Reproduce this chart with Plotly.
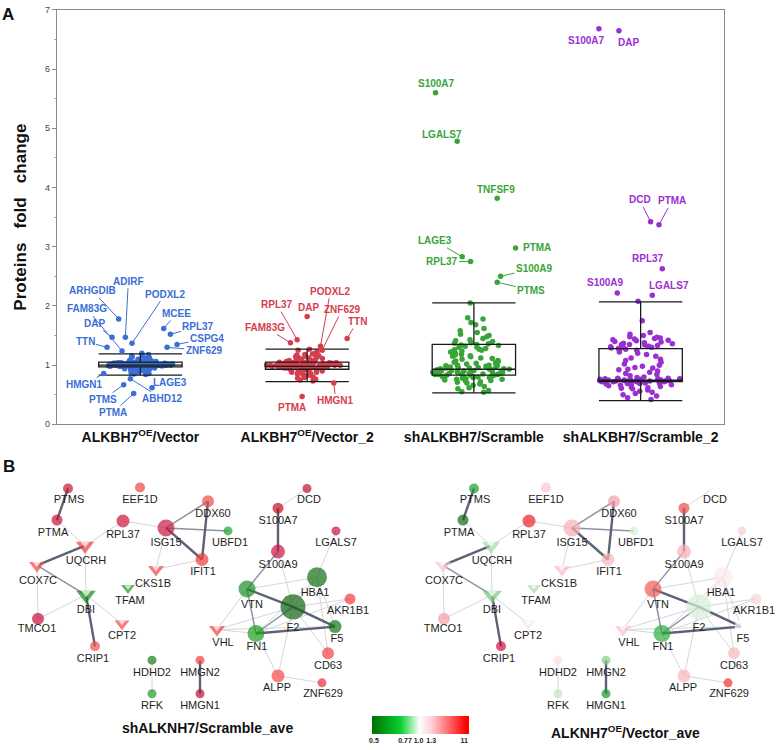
import plotly.graph_objects as go

# ---------------- Panel A data ----------------
categories = ["ALKBH7<sup>OE</sup>/Vector", "ALKBH7<sup>OE</sup>/Vector_2",
              "shALKBH7/Scramble", "shALKBH7/Scramble_2"]
y_ticks = [0, 1, 2, 3, 4, 5, 6, 7]

vector_vals = [1.00, 1.02, 0.98, 1.01, 0.99, 1.03, 0.97, 1.05, 0.95, 1.00, 1.04, 0.96, 1.02, 0.99, 1.01,
               1.06, 0.94, 1.03, 0.98, 1.00, 1.07, 0.93, 1.02, 1.01, 0.99, 0.97, 1.08, 0.92, 1.04, 1.00,
               1.03, 0.98, 1.01, 0.96, 1.05, 1.10, 0.90, 1.02, 0.99, 1.00, 1.12, 0.88, 1.04, 0.97, 1.01,
               1.03, 0.95, 1.00, 1.06, 0.98, 1.15, 0.87, 1.02, 1.00, 0.99, 1.09, 0.91, 1.01, 1.03, 0.97,
               1.18, 0.85, 1.00, 1.04, 0.96, 1.02, 0.99, 1.11, 0.89, 1.01, 1.05, 0.95, 1.00, 1.02, 0.98,
               1.13, 0.93, 1.03, 0.99, 1.01, 1.07, 0.94, 1.00, 1.20, 0.84, 1.02, 0.98, 1.04, 0.96, 1.00,
               1.08, 0.92, 1.01, 0.99, 1.03, 0.97, 1.14, 0.86, 1.02, 1.00, 1.06, 0.95, 1.01, 0.98, 1.16,
               0.90, 1.03, 1.00, 0.99, 1.05]
vector2_vals = [1.00, 0.98, 1.03, 0.95, 1.05, 0.92, 1.08, 0.88, 1.12, 0.85, 1.15, 0.82, 1.20, 0.78, 1.25,
                0.75, 1.02, 0.97, 1.01, 0.99, 1.04, 0.96, 1.06, 0.94, 1.10, 0.90, 1.00, 1.02, 0.98, 1.03,
                0.97, 1.07, 0.93, 1.13, 0.87, 1.18, 0.80, 1.01, 0.99, 1.05, 0.95, 1.00, 1.09, 0.91, 1.02,
                0.98, 1.04, 0.96, 1.11, 0.89, 1.16, 0.84, 1.22, 0.76, 1.00, 1.03, 0.97, 1.01, 0.99, 1.06,
                0.94, 1.08, 0.92, 1.14, 0.86, 1.02, 0.98, 1.00, 1.04, 0.96, 1.27, 0.73, 1.05, 0.95, 1.01,
                0.99, 1.03, 0.97, 1.12, 0.88, 1.07, 0.93, 1.00, 1.02, 0.98, 1.17, 0.83, 1.10, 0.90, 1.04,
                0.96, 1.00, 1.01, 0.99, 1.05, 0.95, 1.19, 0.79, 1.03, 0.97, 1.02, 0.98, 1.06, 0.94, 1.00,
                1.09, 0.91]
scramble_vals = [2.05, 1.80, 1.78, 1.72, 1.68, 1.62, 1.58, 1.55, 1.52, 1.50, 1.48, 1.45, 1.43, 1.40, 1.38,
                 1.37, 1.36, 1.35, 1.34, 1.32, 1.30, 1.30, 1.28, 1.27, 1.25, 1.24, 1.22, 1.20, 1.18, 1.17,
                 1.15, 1.14, 1.12, 1.10, 1.08, 1.07, 1.05, 1.04, 1.03, 1.02, 1.00, 1.00, 0.99, 0.98, 0.97,
                 0.96, 0.96, 0.95, 0.95, 0.94, 0.94, 0.93, 0.93, 0.92, 0.92, 0.91, 0.91, 0.90, 0.90, 0.90,
                 0.89, 0.89, 0.88, 0.88, 0.88, 0.87, 0.87, 0.87, 0.86, 0.86, 0.86, 0.85, 0.85, 0.85, 0.84,
                 0.84, 0.84, 0.83, 0.83, 0.82, 0.82, 0.81, 0.81, 0.80, 0.80, 0.79, 0.79, 0.78, 0.78, 0.77,
                 0.76, 0.76, 0.75, 0.74, 0.73, 0.72, 0.71, 0.70, 0.68, 0.66, 0.64, 0.62, 0.60, 0.57, 0.55,
                 0.54, 1.11, 1.26, 1.33, 1.41, 0.97, 0.99, 1.06, 1.16]
scramble2_vals = [2.08, 1.75, 1.55, 1.52, 1.50, 1.48, 1.47, 1.45, 1.44, 1.42, 1.41, 1.40, 1.38, 1.37, 1.36,
                  1.35, 1.34, 1.33, 1.32, 1.31, 1.30, 1.29, 1.28, 1.27, 1.26, 1.25, 1.22, 1.18, 1.15, 1.10,
                  1.05, 1.02, 0.98, 0.95, 0.92, 0.90, 0.88, 0.86, 0.84, 0.82, 0.80, 0.79, 0.78, 0.78, 0.77,
                  0.77, 0.77, 0.76, 0.76, 0.76, 0.76, 0.75, 0.75, 0.75, 0.75, 0.75, 0.74, 0.74, 0.74, 0.74,
                  0.74, 0.74, 0.73, 0.73, 0.73, 0.73, 0.73, 0.73, 0.72, 0.72, 0.72, 0.72, 0.72, 0.71, 0.71,
                  0.71, 0.71, 0.70, 0.70, 0.70, 0.69, 0.69, 0.68, 0.68, 0.67, 0.66, 0.65, 0.64, 0.63, 0.62,
                  0.61, 0.60, 0.58, 0.56, 0.54, 0.52, 0.50, 0.48, 0.45, 0.42, 1.12, 1.20, 0.96, 1.00, 1.08,
                  0.93, 1.35, 1.43, 1.46, 1.39, 1.30]

box_q1 = [0.97, 0.93, 0.83, 0.72]
box_median = [1.00, 0.98, 0.93, 0.745]
box_q3 = [1.05, 1.05, 1.35, 1.28]
box_lower = [0.83, 0.72, 0.53, 0.40]
box_upper = [1.19, 1.27, 2.05, 2.07]

# labelled proteins: name, fold change, horizontal jitter (category units)
vector_lab_names = ["ARHGDIB", "ADIRF", "PODXL2", "FAM83G", "DAP", "TTN", "MCEE", "RPL37", "CSPG4",
                    "ZNF629", "HMGN1", "PTMS", "PTMA", "ABHD12", "LAGE3"]
vector_lab_vals = [1.78, 1.47, 1.37, 1.24, 1.47, 1.30, 1.62, 1.52, 1.35, 1.30, 0.86, 0.67, 0.52, 0.77, 0.62]
vector_lab_jit = [-0.13, -0.09, -0.05, -0.11, -0.17, -0.20, 0.14, 0.18, 0.22, 0.16, -0.22, -0.10, -0.04, -0.06, 0.07]

vector2_lab_names = ["RPL37", "FAM83G", "DAP", "PODXL2", "ZNF629", "TTN", "PTMA", "HMGN1"]
vector2_lab_vals = [1.43, 1.38, 1.82, 1.32, 1.25, 1.45, 0.47, 0.70]
vector2_lab_jit = [-0.06, -0.10, 0.00, 0.08, 0.09, 0.24, -0.03, 0.16]

scramble_lab_names = ["S100A7", "LGALS7", "TNFSF9", "LAGE3", "RPL37", "PTMA", "S100A9", "PTMS"]
scramble_lab_vals = [5.60, 4.78, 3.82, 2.83, 2.75, 2.98, 2.50, 2.40]
scramble_lab_jit = [-0.23, -0.10, 0.14, -0.07, -0.02, 0.25, 0.16, 0.14]

scramble2_lab_names = ["S100A7", "DAP", "DCD", "PTMA", "RPL37", "S100A9", "LGALS7"]
scramble2_lab_vals = [6.68, 6.65, 3.42, 3.37, 2.63, 2.22, 2.18]
scramble2_lab_jit = [-0.25, -0.13, 0.06, 0.11, 0.13, -0.14, 0.07]

# ---------------- Panel B data ----------------
node_names = ["PTMS", "PTMA", "EEF1D", "RPL37", "ISG15", "DDX60", "UBFD1", "IFIT1", "UQCRH", "COX7C",
              "DBI", "CKS1B", "TFAM", "CPT2", "TMCO1", "CRIP1", "HDHD2", "RFK", "HMGN2", "HMGN1",
              "DCD", "S100A7", "LGALS7", "S100A9", "HBA1", "VTN", "F2", "AKR1B1", "F5", "FN1",
              "VHL", "CD63", "ALPP", "ZNF629"]
node_x = [68, 57, 140, 123, 166, 208, 228, 202, 85, 37, 86, 156, 128, 122, 38, 95, 152, 152, 200, 200,
          307, 278, 336, 278, 317, 247, 293, 350, 335, 256, 217, 328, 278, 322]
node_y = [490, 522, 489, 523, 530, 503, 533, 562, 548, 568, 598, 572, 591, 627, 622, 650, 664, 698, 664, 698,
          490, 510, 533, 554, 580, 592, 610, 602, 630, 637, 633, 657, 680, 687]
label_x = [69, 53, 140, 123, 166, 213, 230, 203, 86, 38, 86, 153, 130, 122, 37, 93, 152, 152, 200, 200,
           309, 278, 336, 278, 315, 252, 293, 348, 337, 257, 223, 328, 277, 323]
label_y = [502, 535, 502, 537, 546, 516, 546, 575, 564, 584, 613, 587, 604, 640, 633, 663, 677, 711, 677, 711,
           502, 523, 546, 568, 596, 608, 632, 614, 643, 651, 647, 670, 693, 699]
arrow_nodes = ["UQCRH", "COX7C", "DBI", "CKS1B", "TFAM", "CPT2", "VHL"]
node_size = [10, 11, 10, 13, 17, 12, 9, 13, 16, 14, 17, 14, 12, 13, 12, 10, 9, 9, 9, 9,
             9, 11, 9, 14, 20, 17, 25, 11, 13, 17, 14, 12, 13, 9]

scramble_node_colors = ["#c41438", "#c8103a", "#f04444", "#c8143c", "#cc1840", "#f04848", "#22a02a",
                        "#f03c3c", "#f03c3c", "#f04a4a", "#118a11", "#f04848", "#1e9a1e", "#f04848",
                        "#c0103a", "#f05050", "#167a16", "#1e9a28", "#f04040", "#c01038", "#c01030",
                        "#c80c1c", "#c8103a", "#cc1440", "#166c16", "#1e8e26", "#126412", "#f03c3c",
                        "#177617", "#1ea01e", "#f04040", "#f04040", "#f44848", "#e43040"]
vector_node_colors = ["#1e9e28", "#136613", "#f8c8cc", "#e8202e", "#f8b0b4", "#f4a0a6", "#d4eed4",
                      "#f8b8bc", "#a0dca0", "#f8c8cc", "#78cc78", "#f8b8bc", "#a8dca8", "#fce6e8",
                      "#f4a0a4", "#d0103c", "#fcdfe0", "#c0e6c0", "#80d080", "#1a9a2a", "#ffffff",
                      "#f04848", "#f8d0d4", "#f8b0b4", "#fde8ea", "#f25a5a", "#d8f0d8", "#f8d4d6",
                      "#ffffff", "#2eae3e", "#f8c0c4", "#f8b8bc", "#f8b8bc", "#f03030"]

edges_strong = [("PTMS", "PTMA"), ("UQCRH", "COX7C"), ("ISG15", "IFIT1"), ("DDX60", "IFIT1"),
                ("S100A7", "S100A9"), ("VTN", "F2"), ("F2", "F5"), ("FN1", "F5"), ("HMGN2", "HMGN1"),
                ("DBI", "CRIP1")]
edges_medium = [("COX7C", "DBI"), ("ISG15", "DDX60"), ("ISG15", "UBFD1"), ("S100A9", "VTN"),
                ("VTN", "FN1"), ("F2", "FN1")]
edges_weak = [("PTMA", "UQCRH"), ("RPL37", "UQCRH"), ("UQCRH", "DBI"), ("COX7C", "TMCO1"),
              ("DBI", "TMCO1"), ("DBI", "CPT2"), ("RPL37", "ISG15"), ("ISG15", "CKS1B"),
              ("IFIT1", "CKS1B"), ("S100A7", "DCD"), ("S100A9", "F2"), ("LGALS7", "HBA1"),
              ("HBA1", "VTN"), ("HBA1", "F2"), ("HBA1", "FN1"), ("HBA1", "CD63"), ("F2", "AKR1B1"),
              ("F2", "CD63"), ("F2", "VHL"), ("VTN", "VHL"), ("FN1", "VHL"), ("FN1", "ALPP"),
              ("ALPP", "ZNF629"), ("ALPP", "F2"), ("HDHD2", "RFK"), ("AKR1B1", "FN1"),
              ("HBA1", "F5"), ("VHL", "F5")]

cbar_tick_pos = [0.02, 0.34, 0.48, 0.61, 0.95]
cbar_tick_text = ["0.5", "0.77", "1.0", "1.3", "11"]

# ---------------- styles ----------------
FONT = "Liberation Sans"
group_colors = ["#3b6fd6", "#d63e4e", "#39a539", "#9a2fd3"]
W, H = 778, 750

fig = go.Figure()

group_vals = [vector_vals, vector2_vals, scramble_vals, scramble2_vals]
for i, vals in enumerate(group_vals):
    fig.add_trace(go.Box(
        x=[i] * len(vals), y=vals, boxpoints="all", jitter=1, pointpos=0, width=0.5,
        line=dict(width=0, color="rgba(0,0,0,0)"), fillcolor="rgba(0,0,0,0)",
        marker=dict(color=group_colors[i], size=5.5, opacity=1, line=dict(width=0)),
        whiskerwidth=0, showlegend=False, hoverinfo="y"))

lab_groups = [
    (vector_lab_names, vector_lab_vals, vector_lab_jit),
    (vector2_lab_names, vector2_lab_vals, vector2_lab_jit),
    (scramble_lab_names, scramble_lab_vals, scramble_lab_jit),
    (scramble2_lab_names, scramble2_lab_vals, scramble2_lab_jit),
]
for i, (names, vals, jit) in enumerate(lab_groups):
    fig.add_trace(go.Scatter(
        x=[i + j for j in jit], y=vals, mode="markers", text=names,
        marker=dict(color=group_colors[i], size=5.5), showlegend=False, hoverinfo="text+y"))

fig.add_trace(go.Box(
    x=[0, 1, 2, 3], q1=box_q1, median=box_median, q3=box_q3,
    lowerfence=box_lower, upperfence=box_upper, width=0.5, whiskerwidth=1,
    boxpoints=False, line=dict(color="#1a1a1a", width=1.3), fillcolor="rgba(0,0,0,0)",
    showlegend=False, hoverinfo="skip"))

# label offsets (pixels: label centre relative to point) and whether a leader line is drawn
label_layout = [
    [(-26, -28, 1), (3, -56, 1), (33, -49, 1), (-35, -42, 1), (-18, -14, 1), (-22, -6, 1), (13, -15, 1),
     (28, -8, 1), (30, -6, 1), (37, 3, 1), (-19, 11, 1), (-21, 15, 1), (-21, 19, 1), (32, 20, 1), (18, -5, 1)],
    [(-20, -35, 1), (-25, -15, 1), (1, -9, 0), (10, -55, 1), (20, -41, 1), (10, -17, 1), (-10, 11, 0), (2, 18, 1)],
    [(1, -9, 0), (-15, -7, 0), (-1, -9, 0), (-27, -16, 1), (-29, 0, 1), (21, 0, 0), (34, -8, 1), (34, 8, 1)],
    [(-12, 12, 0), (10, 12, 0), (-11, -22, 1), (13, -24, 1), (-14, -10, 0), (-12, -10, 0), (17, -10, 0)],
]
annotations = []
for i, (names, vals, jit) in enumerate(lab_groups):
    for k, name in enumerate(names):
        ax, ay, line = label_layout[i][k]
        annotations.append(dict(
            x=i + jit[k], y=vals[k], xref="x", yref="y", text="<b>%s</b>" % name,
            showarrow=True, ax=ax, ay=ay, arrowhead=0, arrowwidth=1, standoff=2,
            arrowcolor=group_colors[i] if line else "rgba(0,0,0,0)",
            font=dict(family=FONT, size=10, color=group_colors[i])))

# ---------------- networks ----------------
pos = {n: (x, y) for n, x, y in zip(node_names, node_x, node_y)}
symbols = ["triangle-down" if n in arrow_nodes else "circle" for n in node_names]
# white notch cut into the back of the arrow-head nodes (network units are pixels here)
notch_idx = [i for i, n in enumerate(node_names) if n in arrow_nodes]
notch_x = [node_x[i] for i in notch_idx]
notch_y = [node_y[i] - node_size[i] / 8 for i in notch_idx]
notch_s = [node_size[i] * 0.5 for i in notch_idx]


def edge_xy(edges):
    xs, ys = [], []
    for a, b in edges:
        xs += [pos[a][0], pos[b][0], None]
        ys += [pos[a][1], pos[b][1], None]
    return xs, ys


for k, colors in enumerate([scramble_node_colors, vector_node_colors]):
    xa, ya = ("x2", "y2") if k == 0 else ("x3", "y3")
    for edges, col, wd in [(edges_weak, "#d3d6dd", 1), (edges_medium, "#8d93a2", 1.5),
                           (edges_strong, "#5c6273", 2.4)]:
        ex, ey = edge_xy(edges)
        fig.add_trace(go.Scatter(x=ex, y=ey, mode="lines", line=dict(color=col, width=wd),
                                 xaxis=xa, yaxis=ya, showlegend=False, hoverinfo="skip"))
    fig.add_trace(go.Scatter(
        x=node_x, y=node_y, mode="markers", text=node_names, hoverinfo="text",
        marker=dict(color=colors, size=node_size, symbol=symbols, line=dict(width=0)),
        xaxis=xa, yaxis=ya, showlegend=False, cliponaxis=False))
    fig.add_trace(go.Scatter(
        x=notch_x, y=notch_y, mode="markers", hoverinfo="skip",
        marker=dict(color="white", size=notch_s, symbol="triangle-down", line=dict(width=0)),
        xaxis=xa, yaxis=ya, showlegend=False, cliponaxis=False))
    fig.add_trace(go.Scatter(
        x=label_x, y=label_y, mode="text", text=node_names, textposition="middle center",
        textfont=dict(family=FONT, size=11, color="#1e1e1e"), xaxis=xa, yaxis=ya,
        showlegend=False, hoverinfo="skip", cliponaxis=False))

# colour bar
fig.add_trace(go.Scatter(
    x=[None], y=[None], mode="markers", xaxis="x2", yaxis="y2", showlegend=False, hoverinfo="skip",
    marker=dict(color=[0.5], cmin=0, cmax=1, showscale=True,
                colorscale=[[0, "rgb(0,112,0)"], [0.3, "rgb(10,210,50)"], [0.49, "rgb(255,255,255)"],
                            [0.62, "rgb(255,205,212)"], [0.97, "rgb(255,0,0)"], [1, "rgb(255,0,0)"]],
                colorbar=dict(orientation="h", x=372 / W, xanchor="left", y=1 - 721 / H, yanchor="top",
                              len=97, lenmode="pixels", thickness=18, thicknessmode="pixels",
                              xpad=0, ypad=0, outlinewidth=0, ticks="", ticklen=0, tickangle=0,
                              tickvals=cbar_tick_pos, ticktext=cbar_tick_text,
                              tickfont=dict(family=FONT, size=7, color="#222", weight="bold")))))

annotations += [
    dict(x=8 / W, y=1 - 10 / H, xref="paper", yref="paper", text="<b>A</b>", showarrow=False,
         xanchor="center", yanchor="middle", font=dict(family=FONT, size=17, color="#111")),
    dict(x=9 / W, y=1 - 468 / H, xref="paper", yref="paper", text="<b>B</b>", showarrow=False,
         xanchor="center", yanchor="middle", font=dict(family=FONT, size=17, color="#111")),
    dict(x=207 / W, y=1 - 733 / H, xref="paper", yref="paper", text="<b>shALKNH7/Scramble_ave</b>",
         xanchor="center", yanchor="middle",
         showarrow=False, font=dict(family=FONT, size=14, color="#111")),
    dict(x=625 / W, y=1 - 737 / H, xref="paper", yref="paper",
         text="<b>ALKNH7<sup>OE</sup>/Vector_ave</b>", xanchor="center", yanchor="middle",
         showarrow=False, font=dict(family=FONT, size=14, color="#111")),
]

hidden = dict(visible=False, showgrid=False, zeroline=False)
fig.update_layout(
    width=W, height=H, margin=dict(l=0, r=0, t=0, b=0),
    paper_bgcolor="white", plot_bgcolor="white", boxmode="overlay",
    font=dict(family=FONT),
    xaxis=dict(domain=[57 / W, 724 / W], range=[-0.5, 3.5], tickvals=[0, 1, 2, 3],
               ticktext=["<b>%s</b>" % c for c in categories],
               tickfont=dict(family=FONT, size=14, color="#111"), ticks="",
               showline=True, linecolor="#8a8a8a", linewidth=1.2, mirror=True,
               showgrid=False, zeroline=False, anchor="y"),
    yaxis=dict(domain=[1 - 425 / H, 1 - 5 / H], range=[0, 7], tickvals=y_ticks,
               ticks="outside", ticklen=4, tickcolor="#8a8a8a",
               minor=dict(dtick=0.5, ticks="outside", ticklen=2, tickcolor="#aaaaaa"),
               tickfont=dict(family=FONT, size=9, color="#444"),
               showline=True, linecolor="#8a8a8a", linewidth=1.2, mirror=True,
               showgrid=False, zeroline=False, anchor="x",
               title=dict(text="<b>Proteins\u00a0\u00a0 fold\u00a0\u00a0 change</b>", standoff=14,
                          font=dict(family=FONT, size=17, color="#111"))),
    xaxis2=dict(domain=[0, 370 / W], range=[0, 370], anchor="y2", **hidden),
    yaxis2=dict(domain=[1 - 725 / H, 1 - 475 / H], range=[725, 475], anchor="x2", **hidden),
    xaxis3=dict(domain=[406 / W, 776 / W], range=[0, 370], anchor="y3", **hidden),
    yaxis3=dict(domain=[1 - 725 / H, 1 - 475 / H], range=[725, 475], anchor="x3", **hidden),
    annotations=annotations,
)

fig.write_html("out.html", config={"displayModeBar": False},
               post_script=["document.body.style.margin='0';document.body.style.overflow='hidden';"])
